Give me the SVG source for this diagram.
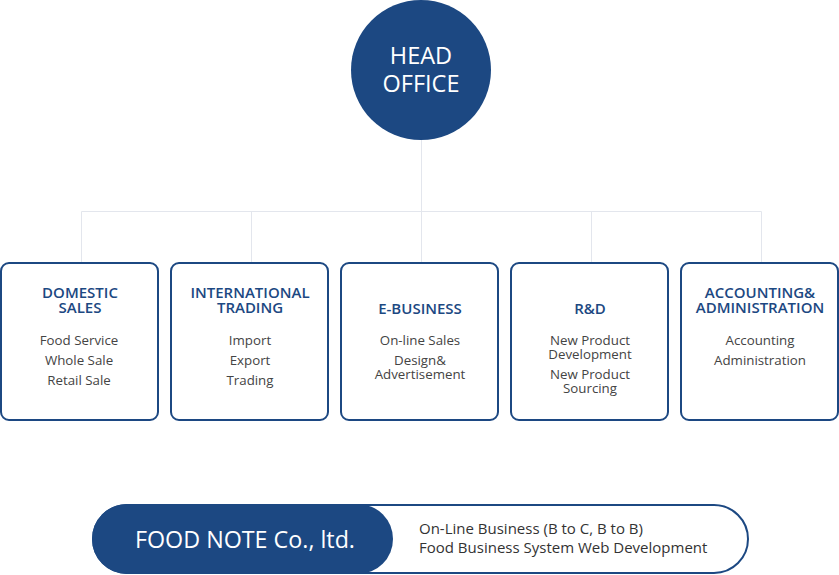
<svg xmlns="http://www.w3.org/2000/svg" width="839" height="575" viewBox="0 0 839 575">
<style>
.box{fill:#fff;stroke:#1c4882;stroke-width:2}
.title{font-family:"Open Sans","Noto Sans",sans-serif;font-size:15px;font-weight:600;fill:#1c4882;text-anchor:middle}
.item{font-family:"Open Sans","Noto Sans",sans-serif;font-size:13.3px;fill:#444;text-anchor:middle}
.conn{fill:none;stroke:#e3e6ed;stroke-width:1}
.bottom{font-family:"Open Sans","Noto Sans",sans-serif;font-size:15px;fill:#333}
</style>
<rect width="839" height="575" fill="#fff"/>
<g id="connectors">
<path class="conn" d="M421.5 140V211.5M81.5 211.5H761.5M81.5 211.5V262M251.5 211.5V262M421.5 211.5V262M591.5 211.5V262M761.5 211.5V262"/>
</g>
<g id="head-office">
<circle cx="421" cy="70" r="70" fill="#1c4882"/>
<text x="421" y="64" font-family="'Open Sans','Noto Sans',sans-serif" font-size="23.5" fill="#fff" text-anchor="middle">HEAD</text>
<text x="421" y="92" font-family="'Open Sans','Noto Sans',sans-serif" font-size="23.5" fill="#fff" text-anchor="middle">OFFICE</text>
</g>
<g id="domestic-sales">
<rect class="box" x="1" y="263" width="157" height="157" rx="8"/>
<text class="title" x="80" y="298">DOMESTIC</text>
<text class="title" x="80" y="313">SALES</text>
<text class="item" x="79" y="345">Food Service</text>
<text class="item" x="79" y="365">Whole Sale</text>
<text class="item" x="79" y="385">Retail Sale</text>
</g>
<g id="international-trading">
<rect class="box" x="171" y="263" width="157" height="157" rx="8"/>
<text class="title" x="250" y="298">INTERNATIONAL</text>
<text class="title" x="250" y="313">TRADING</text>
<text class="item" x="250" y="345">Import</text>
<text class="item" x="250" y="365">Export</text>
<text class="item" x="250" y="385">Trading</text>
</g>
<g id="e-business">
<rect class="box" x="341" y="263" width="157" height="157" rx="8"/>
<text class="title" x="420" y="314">E-BUSINESS</text>
<text class="item" x="420" y="345">On-line Sales</text>
<text class="item" x="420" y="365">Design&amp;</text>
<text class="item" x="420" y="379">Advertisement</text>
</g>
<g id="rnd">
<rect class="box" x="511" y="263" width="157" height="157" rx="8"/>
<text class="title" x="590" y="314">R&amp;D</text>
<text class="item" x="590" y="345">New Product</text>
<text class="item" x="590" y="359">Development</text>
<text class="item" x="590" y="379">New Product</text>
<text class="item" x="590" y="393">Sourcing</text>
</g>
<g id="accounting-administration">
<rect class="box" x="681" y="263" width="157" height="157" rx="8"/>
<text class="title" x="760" y="298">ACCOUNTING&amp;</text>
<text class="title" x="760" y="313">ADMINISTRATION</text>
<text class="item" x="760" y="345">Accounting</text>
<text class="item" x="760" y="365">Administration</text>
</g>
<g id="food-note">
<rect x="93" y="505" width="655" height="68" rx="34" fill="#fff" stroke="#1c4882" stroke-width="2"/>
<rect x="92" y="504" width="301" height="70" rx="35" fill="#1c4882"/>
<text x="245" y="548" font-family="'Open Sans','Noto Sans',sans-serif" font-size="23.3" fill="#fff" text-anchor="middle" textLength="220" lengthAdjust="spacingAndGlyphs">FOOD NOTE Co., ltd.</text>
<text class="bottom" x="419" y="534">On-Line Business (B to C, B to B)</text>
<text class="bottom" x="419" y="553">Food Business System Web Development</text>
</g>
</svg>
